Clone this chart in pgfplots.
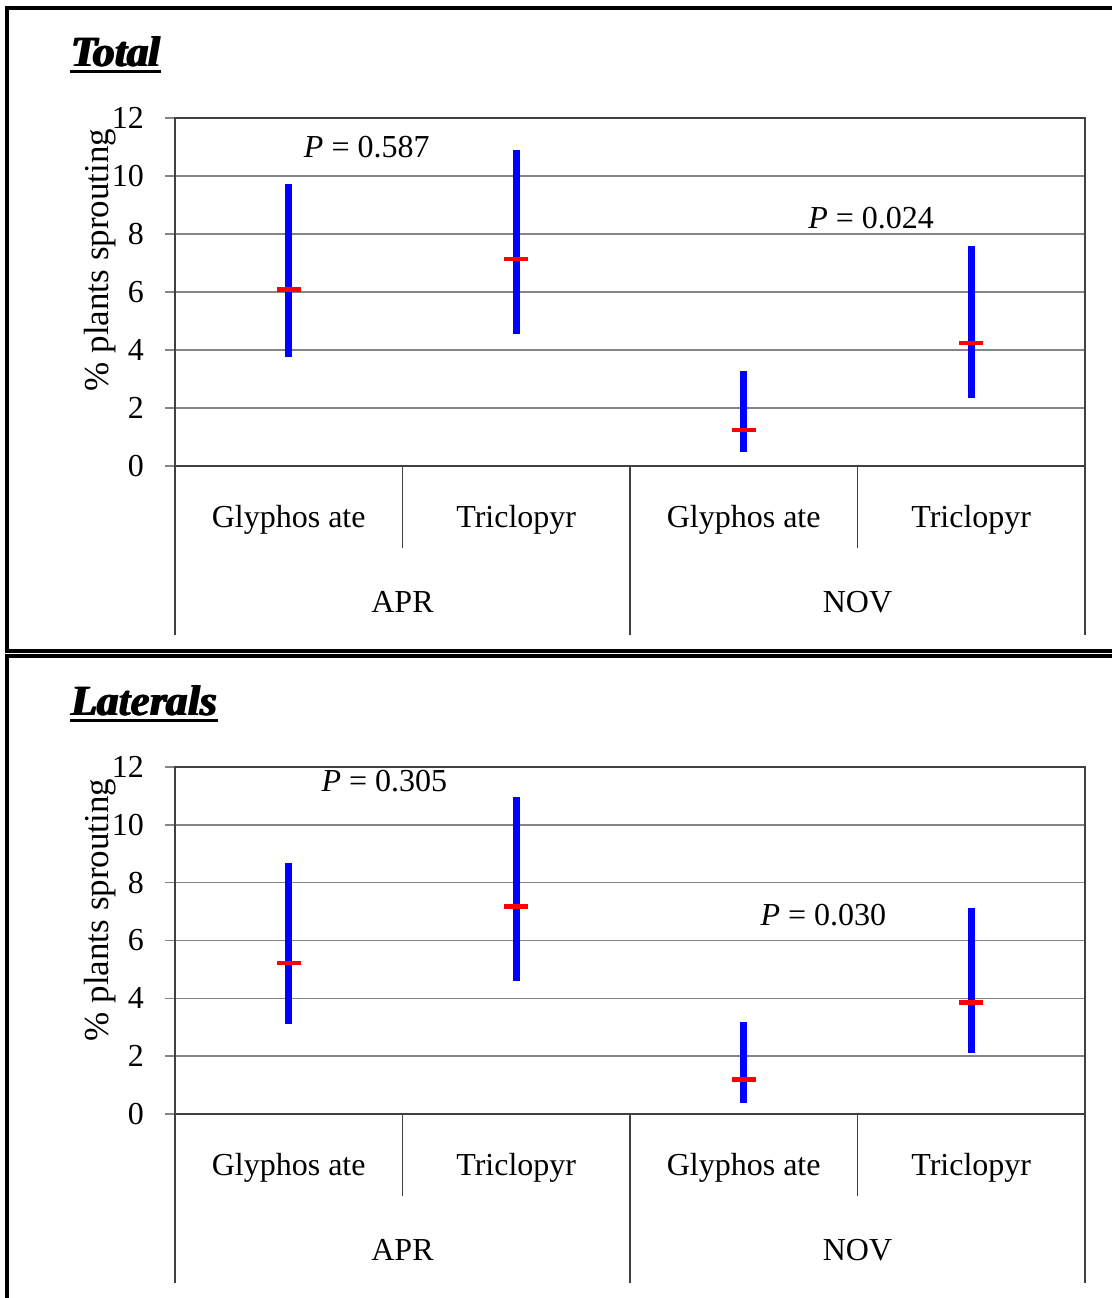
\documentclass[border=0pt]{standalone}
\usepackage{fontspec}
\setmainfont{Liberation Serif}
\usepackage{pgfplots}
\pgfplotsset{compat=1.18}

\definecolor{gridgray}{HTML}{858585}
\definecolor{edgegray}{HTML}{404040}

\pgfplotsset{
  sprout/.style={
    anchor=south west, scale only axis, width=455pt, clip=false,
    xmin=0.5, xmax=4.5, ymin=0, ymax=12, xtick=\empty,
    ytick={0,2,...,12}, ytick pos=left, tick align=outside, major tick length=5pt,
    tick style={gridgray, line width=0.8pt},
    ymajorgrids, grid style={gridgray, line width=0.8pt},
    axis line style={edgegray, line width=0.6pt},
    yticklabel style={font=\fontsize{16}{19}\selectfont, anchor=east, xshift=-7pt},
    /pgf/number format/assume math mode=true,
    unbounded coords=jump,
  },
  rng/.style={blue, line width=3.5pt},
  avg/.style={only marks, mark=-, mark size=6pt, red, mark options={line width=2.4pt}},
}

\newcommand{\cats}{%
  \node[font=\fontsize{16}{19}\selectfont] at ([yshift=-27pt]axis cs:1,0) {Glyphos ate};
  \node[font=\fontsize{16}{19}\selectfont] at ([yshift=-27pt]axis cs:2,0) {Triclopyr};
  \node[font=\fontsize{16}{19}\selectfont] at ([yshift=-27pt]axis cs:3,0) {Glyphos ate};
  \node[font=\fontsize{16}{19}\selectfont] at ([yshift=-27pt]axis cs:4,0) {Triclopyr};
  \node[font=\fontsize{16}{19}\selectfont] at ([yshift=-68pt]axis cs:1.5,0) {APR};
  \node[font=\fontsize{16}{19}\selectfont] at ([yshift=-68pt]axis cs:3.5,0) {NOV};
  \draw[edgegray, line width=0.6pt] (axis cs:1.5,0) -- ++(0pt,-41pt);
  \draw[edgegray, line width=0.6pt] (axis cs:3.5,0) -- ++(0pt,-41pt);
  \draw[edgegray, line width=0.6pt] (axis cs:0.5,0) -- ++(0pt,-84.5pt);
  \draw[edgegray, line width=0.6pt] (axis cs:2.5,0) -- ++(0pt,-84.5pt);
  \draw[edgegray, line width=0.6pt] (axis cs:4.5,0) -- ++(0pt,-84.5pt);
}

\begin{document}
\begin{tikzpicture}
\useasboundingbox (0,0) rectangle (556pt,-649pt);

% panel frames
\draw[line width=2pt] (560pt,-4pt) -- (3.35pt,-4pt) -- (3.35pt,-325.5pt) -- (560pt,-325.5pt);
\draw[line width=2pt] (560pt,-327.9pt) -- (3.35pt,-327.9pt) -- (3.35pt,-660pt);

% titles (shadowed bold italic)
\foreach \y/\t in {-33pt/Total,-357.5pt/Laterals} {
  \node[anchor=base west, font=\fontsize{21.5}{25}\selectfont\bfseries\itshape, inner sep=0pt] at (35.9pt,\y-0.4pt) {\t};
  \node[anchor=base west, font=\fontsize{21.5}{25}\selectfont\bfseries\itshape, inner sep=0pt] at (35.45pt,\y) {\t};
  \node[anchor=base west, font=\fontsize{21.5}{25}\selectfont\bfseries\itshape, inner sep=0pt] (tt) at (35pt,\y) {\t};
  \draw[line width=1.6pt] ([yshift=-2.8pt]tt.base west) -- ([yshift=-2.8pt,xshift=0.5pt]tt.base east);
}

% y labels
\node[rotate=90, font=\fontsize{17.5}{20}\selectfont] at (50pt,-130pt) {\% plants sprouting};
\node[rotate=90, font=\fontsize{17.5}{20}\selectfont] at (50pt,-455pt) {\% plants sprouting};

% Total
\begin{axis}[sprout, at={(87.5pt,-233pt)}, height=174pt]
\addplot[rng] coordinates {(1,3.76) (1,9.72) (2,nan) (2,4.55) (2,10.9) (3,nan) (3,0.48) (3,3.28) (4,nan) (4,2.34) (4,7.59)};
\addplot[avg] coordinates {(1,6.1) (2,7.14) (3,1.24) (4,4.24)};
\node[font=\fontsize{16}{19}\selectfont] at (axis cs:1.343,11.0) {\itshape P\upshape{} = 0.587};
\node[font=\fontsize{16}{19}\selectfont] at (axis cs:3.56,8.55) {\itshape P\upshape{} = 0.024};
\cats
\end{axis}

% Laterals
\begin{axis}[sprout, at={(87.5pt,-557pt)}, height=173.5pt]
\addplot[rng] coordinates {(1,3.11) (1,8.68) (2,nan) (2,4.6) (2,10.96) (3,nan) (3,0.38) (3,3.18) (4,nan) (4,2.11) (4,7.12)};
\addplot[avg] coordinates {(1,5.22) (2,7.19) (3,1.18) (4,3.87)};
\node[font=\fontsize{16}{19}\selectfont] at (axis cs:1.42,11.51) {\itshape P\upshape{} = 0.305};
\node[font=\fontsize{16}{19}\selectfont] at (axis cs:3.35,6.88) {\itshape P\upshape{} = 0.030};
\cats
\end{axis}
\end{tikzpicture}
\end{document}
